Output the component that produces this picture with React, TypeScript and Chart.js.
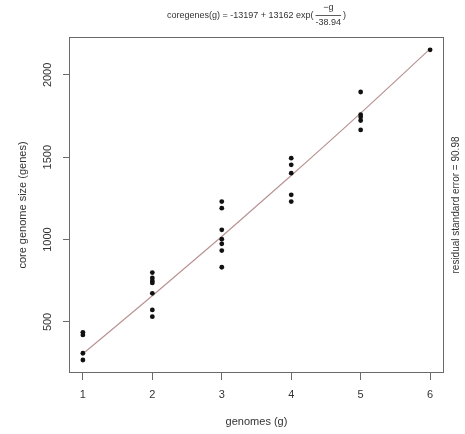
import React, { useEffect, useRef } from "react";
import { Chart, registerables } from "chart.js";

Chart.register(...registerables);

const genomes1 = [437, 421, 310, 269];
const genomes2 = [800, 767, 749, 737, 674, 573, 532];
const genomes3 = [1231, 1191, 1059, 1002, 974, 933, 832];
const genomes4 = [1494, 1454, 1403, 1272, 1231];
const genomes5 = [1896, 1758, 1744, 1723, 1666];
const genomes6 = [2152];
const groups = [genomes1, genomes2, genomes3, genomes4, genomes5, genomes6];

const fitX = [1, 2, 3, 4, 5, 6];
const fitY = [307, 659, 1019, 1389, 1768, 2158];

const xTicks = [1, 2, 3, 4, 5, 6];
const yTicks = [500, 1000, 1500, 2000];

const titleMain = "coregenes(g) = -13197 + 13162 exp(";
const titleNum = "\u2212g";
const titleDen = "-38.94";
const xTitle = "genomes (g)";
const yTitle = "core genome size (genes)";
const rightText = "residual standard error = 90.98";

const FONT = '"Liberation Sans", Arial, Helvetica, sans-serif';
const AXIS = "#6a6a6a";
const TEXT = "#333";

const textPlugin = {
  id: "rtext",
  afterDraw(chart: any) {
    const { ctx, chartArea: a, scales } = chart;
    ctx.save();
    // box
    ctx.strokeStyle = AXIS;
    ctx.lineWidth = 1;
    ctx.strokeRect(Math.round(a.left) + 0.5, Math.round(a.top) + 0.5, Math.round(a.right - a.left) - 1, Math.round(a.bottom - a.top) - 1);
    ctx.fillStyle = TEXT;
    // y tick labels (rotated)
    ctx.font = `11px ${FONT}`;
    ctx.textAlign = "center";
    ctx.textBaseline = "middle";
    yTicks.forEach((v) => {
      const y = scales.y.getPixelForValue(v);
      ctx.save();
      ctx.translate(48, y);
      ctx.rotate(-Math.PI / 2);
      ctx.fillText(String(v), 0, 0);
      ctx.restore();
    });
    const cy = (a.top + a.bottom) / 2;
    const cx = (a.left + a.right) / 2;
    // y title
    ctx.save();
    ctx.translate(23, cy);
    ctx.rotate(-Math.PI / 2);
    ctx.fillText(yTitle, 0, 0);
    ctx.restore();
    // x title
    ctx.fillText(xTitle, cx, 422);
    // right text
    ctx.font = `10px ${FONT}`;
    ctx.save();
    ctx.translate(456, cy);
    ctx.rotate(-Math.PI / 2);
    ctx.fillText(rightText, 0, 0);
    ctx.restore();
    // formula title
    ctx.font = `9px ${FONT}`;
    const wMain = ctx.measureText(titleMain).width;
    const wNum = ctx.measureText(titleNum).width;
    const wDen = ctx.measureText(titleDen).width;
    const wFrac = Math.max(wNum, wDen);
    const wClose = ctx.measureText(")").width;
    const total = wMain + wFrac + 4 + wClose;
    let x0 = cx - total / 2;
    ctx.textAlign = "left";
    ctx.fillText(titleMain, x0, 16);
    const fx = x0 + wMain + 2 + wFrac / 2;
    ctx.textAlign = "center";
    ctx.fillText(titleNum, fx, 8);
    ctx.fillText(titleDen, fx, 23);
    ctx.strokeStyle = TEXT;
    ctx.lineWidth = 0.8;
    ctx.beginPath();
    ctx.moveTo(fx - wFrac / 2, 15.5);
    ctx.lineTo(fx + wFrac / 2, 15.5);
    ctx.stroke();
    ctx.textAlign = "left";
    ctx.fillText(")", x0 + wMain + wFrac + 4, 16);
    ctx.restore();
  },
};

export default function App() {
  const ref = useRef<HTMLCanvasElement>(null);
  useEffect(() => {
    if (!ref.current) return;
    const pts: { x: number; y: number }[] = [];
    groups.forEach((g, i) => g.forEach((v) => pts.push({ x: i + 1, y: v })));
    const fit = fitX.map((x, i) => ({ x, y: fitY[i] }));
    const chart = new Chart(ref.current, {
      type: "scatter",
      data: {
        datasets: [
          {
            type: "line",
            data: fit,
            borderColor: "#b99393",
            borderWidth: 1.2,
            pointRadius: 0,
            showLine: true,
            tension: 0.4,
            cubicInterpolationMode: "monotone",
            order: 2,
          } as any,
          {
            data: pts,
            backgroundColor: "#111",
            borderColor: "#111",
            pointRadius: 2.4,
            borderWidth: 0,
            order: 1,
          },
        ],
      },
      options: {
        animation: false,
        responsive: false,
        devicePixelRatio: 1,
        events: [],
        layout: { padding: { left: 0, top: 37, right: 21, bottom: 0 } },
        plugins: { legend: { display: false }, tooltip: { enabled: false } },
        scales: {
          x: {
            type: "linear",
            min: 0.8,
            max: 6.2,
            afterBuildTicks: (s: any) => {
              s.ticks = xTicks.map((v) => ({ value: v }));
            },
            afterFit: (s: any) => {
              s.height = 61;
            },
            border: { display: false },
            grid: { drawOnChartArea: false, drawTicks: true, tickLength: 7, color: AXIS },
            ticks: {
              font: { size: 11, family: FONT },
              color: TEXT,
              padding: 8,
              maxRotation: 0,
              callback: (v: any) => String(v),
            },
          },
          y: {
            type: "linear",
            min: 190,
            max: 2230,
            afterBuildTicks: (s: any) => {
              s.ticks = yTicks.map((v) => ({ value: v }));
            },
            afterFit: (s: any) => {
              s.width = 69;
            },
            border: { display: false },
            grid: { drawOnChartArea: false, drawTicks: true, tickLength: 6, color: AXIS },
            ticks: { display: false },
          },
        },
      },
      plugins: [textPlugin],
    });
    return () => chart.destroy();
  }, []);
  return (
    <div style={{ position: "fixed", left: 0, top: 0, width: 465, height: 434, background: "#fff" }}>
      <canvas ref={ref} width={465} height={434} style={{ width: 465, height: 434 }} />
    </div>
  );
}
